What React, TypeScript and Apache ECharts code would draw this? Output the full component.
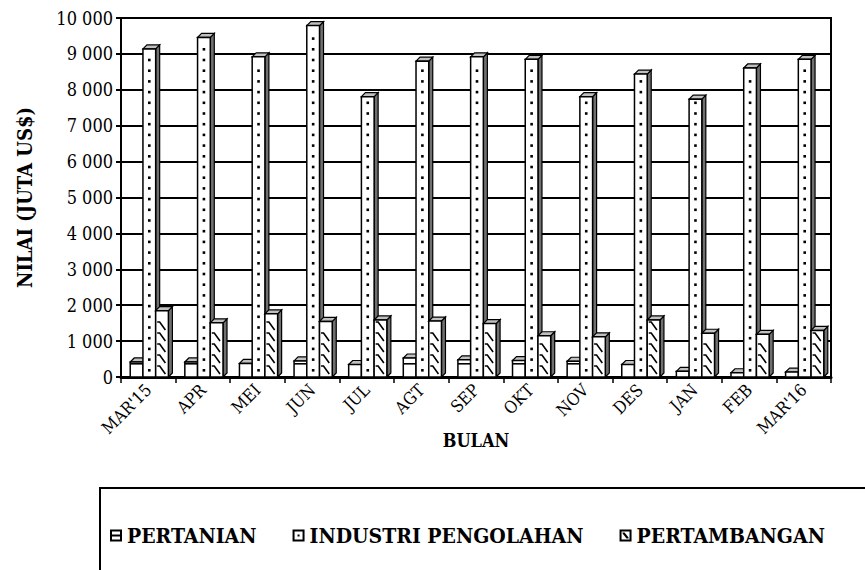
import React, { useEffect, useRef } from 'react';
import * as echarts from 'echarts';

const categories = ["MAR'15", 'APR', 'MEI', 'JUN', 'JUL', 'AGT', 'SEP', 'OKT', 'NOV', 'DES', 'JAN', 'FEB', "MAR'16"];
const pertanian = [530, 530, 490, 560, 460, 640, 590, 570, 550, 460, 270, 230, 250];
const industri = [9250, 9570, 9030, 9900, 7920, 8910, 9030, 8960, 7920, 8550, 7850, 8720, 8960];
const pertambangan = [1960, 1620, 1870, 1660, 1700, 1670, 1600, 1260, 1230, 1700, 1330, 1300, 1410];
const seriesNames = ['PERTANIAN', 'INDUSTRI PENGOLAHAN', 'PERTAMBANGAN'];
const yMin = 0;
const yMax = 10000;
const yInterval = 1000;

const FONT = "'DejaVu Serif Condensed', 'DejaVu Serif'";

const D = 4;

const makeRender = (sIdx: number) => (params: any, api: any) => {
  const idx = api.value(0);
  const val = api.value(1);
  const top = api.coord([idx, val]);
  const base = api.coord([idx, 0]);
  const band = api.size([1, 0])[0];
  const w = band * 0.233;
  const xb = top[0] - 1.5 * w + 1 + sIdx * w;
  const yBack = top[1];
  const yFront = top[1] + D;
  const yBottom = base[1];
  const deco: any[] = [];
  if (sIdx === 0) {
    for (let y = yBottom - 14; y > yFront + 1; y -= 12) {
      deco.push({ type: 'rect', shape: { x: xb, y, width: w, height: 1.6 }, style: { fill: '#000' } });
    }
  } else if (sIdx === 1) {
    for (let y = yBottom - 8; y > yFront + 2; y -= 10.7) {
      deco.push({ type: 'rect', shape: { x: xb + w / 2 - 1.3, y, width: 2.6, height: 2.6 }, style: { fill: '#000' } });
    }
  } else {
    for (let y = yBottom - 11; y > yFront + 1; y -= 11) {
      deco.push({
        type: 'polyline',
        shape: { points: [[xb + 1.5, y], [xb + 4, y], [xb + w - 3, y + 8]] },
        style: { fill: null, stroke: '#000', lineWidth: 1.6 },
      });
    }
  }
  return {
    type: 'group',
    children: [
      {
        type: 'polygon',
        shape: { points: [[xb + w, yFront], [xb + w + D, yBack], [xb + w + D, yBottom - D], [xb + w, yBottom]] },
        style: { fill: '#707070', stroke: '#000', lineWidth: 1.2 },
      },
      {
        type: 'polygon',
        shape: { points: [[xb, yFront], [xb + D, yBack], [xb + w + D, yBack], [xb + w, yFront]] },
        style: { fill: '#c0c0c0', stroke: '#000', lineWidth: 1.2 },
      },
      {
        type: 'rect',
        shape: { x: xb, y: yFront, width: w, height: yBottom - yFront },
        style: { fill: '#fff', stroke: '#000', lineWidth: 1.5 },
      },
      ...deco,
    ],
  };
};

const icons = [
  'path://M0,0L12,0L12,12L0,12Z M2,2L2,5L10,5L10,2Z M2,7L2,10L10,10L10,7Z',
  'path://M0,0L12,0L12,12L0,12Z M2,2L2,10L10,10L10,2Z M5,5L7,5L7,7L5,7Z',
  'path://M0,0L12,0L12,12L0,12Z M2,2L2,10L10,10L10,2Z M3,3L5,3L9,8L9,9L7,9L3,4Z',
];

const fmt = (v: number) => String(v).replace(/\B(?=(\d{3})+(?!\d))/g, ' ');

export default function App() {
  const ref = useRef<HTMLDivElement>(null);
  useEffect(() => {
    if (!ref.current) return;
    const chart = echarts.init(ref.current, undefined, { renderer: 'svg' });
    const allSeries = [pertanian, industri, pertambangan];
    chart.setOption({
      animation: false,
      backgroundColor: '#fff',
      textStyle: { fontFamily: FONT },
      grid: {
        left: 121,
        right: 34,
        top: 18,
        bottom: 193,
        show: true,
        borderColor: '#000',
        borderWidth: 2,
        backgroundColor: 'transparent',
      },
      legend: {
        left: 100,
        top: 488,
        width: 820,
        padding: [37, 80, 40, 10],
        borderColor: '#000',
        borderWidth: 2,
        itemWidth: 12,
        itemHeight: 12,
        itemGap: 36,
        textStyle: { fontFamily: FONT, fontWeight: 'bold', fontSize: 21, color: '#000' },
        data: seriesNames.map((n, i) => ({ name: n, icon: icons[i], itemStyle: { color: '#000' } })),
      },
      xAxis: {
        type: 'category',
        data: categories,
        boundaryGap: true,
        name: 'BULAN',
        nameLocation: 'middle',
        nameGap: 54,
        nameMoveOverlap: false,
        nameTextStyle: { fontFamily: FONT, fontWeight: 'bold', fontSize: 18, color: '#000' },
        axisLine: { lineStyle: { color: '#000', width: 3 } },
        axisTick: { show: true, length: 6, lineStyle: { color: '#000', width: 1.5 } },
        axisLabel: { rotate: 45, fontFamily: FONT, fontSize: 17, color: '#000', margin: 10, interval: 0 },
        splitLine: { show: false },
      },
      yAxis: {
        type: 'value',
        min: yMin,
        max: yMax,
        interval: yInterval,
        name: 'NILAI (JUTA US$)',
        nameLocation: 'middle',
        nameGap: 86,
        nameRotate: 90,
        nameMoveOverlap: false,
        nameTextStyle: { fontFamily: FONT, fontWeight: 'bold', fontSize: 20, color: '#000' },
        axisLine: { show: true, lineStyle: { color: '#000', width: 2 } },
        axisTick: { show: true, length: 5, lineStyle: { color: '#000', width: 2 } },
        axisLabel: { fontFamily: FONT, fontSize: 18, color: '#000', margin: 8, formatter: fmt },
        splitLine: { show: true, lineStyle: { color: '#000', width: 2 } },
      },
      series: allSeries.map((vals, s) => ({
        type: 'custom',
        name: seriesNames[s],
        renderItem: makeRender(s),
        encode: { x: 0, y: 1 },
        itemStyle: { color: '#000' },
        data: vals.map((v, i) => [i, v]),
        z: 2 + s,
      })),
    });
    return () => chart.dispose();
  }, []);
  return <div ref={ref} style={{ position: 'absolute', left: 0, top: 0, width: 865, height: 570 }} />;
}
